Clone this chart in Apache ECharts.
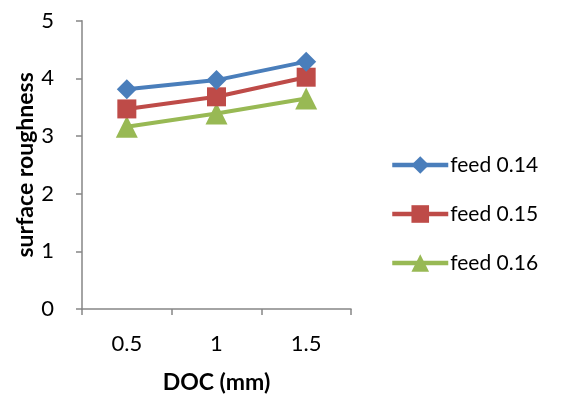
<!DOCTYPE html>
<html><head><meta charset="utf-8">
<script src="https://cdn.jsdelivr.net/npm/echarts@6/dist/echarts.min.js"></script>
<style>html,body{margin:0;padding:0;background:#fff}#c{width:568px;height:401px}</style>
</head><body><div id="c"></div>
<script>
const categories = ['0.5', '1', '1.5'];
const feed014 = [3.81, 3.97, 4.29];
const feed015 = [3.47, 3.68, 4.02];
const feed016 = [3.16, 3.39, 3.65];
const seriesNames = ['feed 0.14', 'feed 0.15', 'feed 0.16'];
const yTicks = [0, 1, 2, 3, 4, 5];

const FONT = 'Lato';
const chart = echarts.init(document.getElementById('c'), null, {renderer: 'canvas'});
const colors = ['#4a7ebb', '#be4b48', '#98b954'];
const symbols = ['diamond', 'rect', 'triangle'];
const sizes = [20, 19, 22];
const data = [feed014, feed015, feed016];
chart.setOption({
  animation: false,
  textStyle: {fontFamily: FONT},
  grid: {left: 82, right: 217, top: 20.7, bottom: 92, containLabel: false},
  legend: {
    orient: 'vertical', left: 390, top: 154, padding: 0, itemGap: 27,
    itemWidth: 56, itemHeight: 22,
    lineStyle: {width: 4.5},
    textStyle: {fontSize: 21, lineHeight: 22, color: '#000', fontFamily: FONT, padding: [0,0,0,-3]},
    data: seriesNames
  },
  xAxis: {
    type: 'category', data: categories, boundaryGap: true,
    name: 'DOC (mm)', nameLocation: 'middle', nameGap: 62,
    nameTextStyle: {fontSize: 23, fontWeight: 'bold', color: '#000', fontFamily: FONT},
    axisLine: {lineStyle: {color: '#868686', width: 1.5}},
    axisTick: {show: true, length: 6, lineStyle: {color: '#868686', width: 1.5}},
    axisLabel: {fontSize: 22, color: '#000', margin: 24, fontFamily: FONT}
  },
  yAxis: {
    type: 'value', min: yTicks[0], max: yTicks[yTicks.length-1], interval: 1,
    name: 'surface roughness', nameLocation: 'middle', nameGap: 43, nameRotate: 90,
    nameTextStyle: {fontSize: 23, fontWeight: 'bold', color: '#000', fontFamily: FONT},
    axisLine: {show: true, lineStyle: {color: '#868686', width: 1.5}},
    axisTick: {show: true, length: 6, lineStyle: {color: '#868686', width: 1.5}},
    splitLine: {show: false},
    axisLabel: {fontSize: 22, color: '#000', margin: 28, fontFamily: FONT}
  },
  series: data.map((d, i) => ({
    name: seriesNames[i], type: 'line', data: d,
    symbol: symbols[i], symbolSize: sizes[i],
    lineStyle: {color: colors[i], width: 4},
    itemStyle: {color: colors[i]},
    z: 3 - i
  }))
});
</script></body></html>
